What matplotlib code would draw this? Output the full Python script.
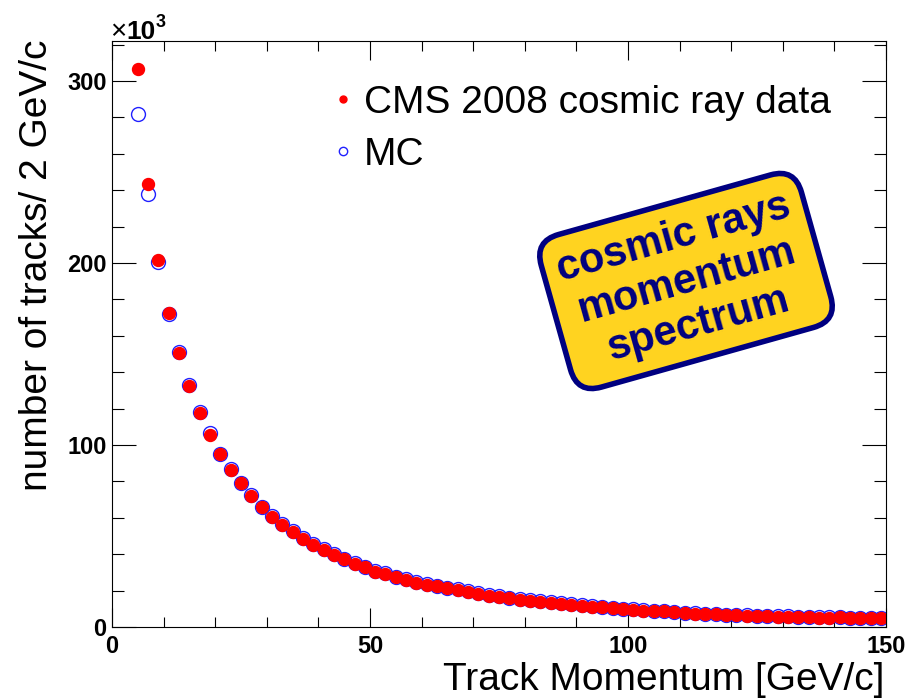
import matplotlib
matplotlib.use('Agg')
import matplotlib.pyplot as plt
import numpy as np
from matplotlib.lines import Line2D
from matplotlib.ticker import MultipleLocator, FixedLocator

plt.rcParams['font.family'] = ['Liberation Sans', 'DejaVu Sans']

# bin centres, 2 GeV/c bins from 4 to 150
momentum = np.arange(5, 150, 2)

# counts per bin, in units of 10^3
data_counts = [306.4, 243.6, 201.8, 172.6, 150.7, 132.2, 117.6, 105.6, 94.8, 86.4,
               79.0, 72.2, 65.8, 60.6, 56.2, 52.2, 48.6, 45.0, 42.3, 39.5,
               37.2, 34.6, 32.7, 30.3, 29.0, 27.3, 25.8, 24.4, 23.0, 22.3,
               21.3, 20.4, 19.3, 18.3, 17.3, 16.5, 15.7, 15.0, 14.4, 13.9,
               13.3, 12.7, 12.1, 11.6, 11.2, 10.8, 10.3, 9.8, 9.4, 9.0,
               8.8, 8.6, 8.0, 7.5, 7.3, 7.1, 6.9, 6.6, 6.4, 6.2,
               6.0, 5.9, 5.7, 5.6, 5.5, 5.3, 5.1, 5.1, 5.4, 5.0,
               5.0, 4.9, 4.9]
mc_counts = [282.0, 238.0, 200.6, 172.0, 151.2, 132.8, 118.0, 106.4, 95.2, 86.8,
             79.4, 72.6, 66.2, 61.0, 56.8, 52.6, 49.0, 45.4, 42.8, 39.9,
             37.6, 35.0, 33.2, 30.8, 29.5, 27.7, 26.2, 24.8, 23.4, 22.6,
             21.7, 20.8, 19.7, 18.7, 17.7, 16.9, 16.1, 15.4, 14.8, 14.2,
             13.6, 13.0, 12.4, 11.9, 11.5, 11.1, 10.6, 10.1, 9.7, 9.3,
             9.0, 8.8, 8.3, 7.8, 7.5, 7.3, 7.1, 6.8, 6.6, 6.4,
             6.2, 6.1, 5.9, 5.8, 5.7, 5.5, 5.3, 5.3, 5.5, 5.2,
             5.2, 5.1, 5.1]

W, H = 908, 699
fig = plt.figure(figsize=(W / 100, H / 100), dpi=100)
ax = fig.add_axes([112 / W, 1 - 627 / H, 774 / W, 586 / H])

# MC underneath, data on top
ax.plot(momentum, mc_counts, 'o', ms=10, mfc='none', mec='#2020ff', mew=1.0)
ax.plot(momentum, data_counts, 'o', ms=8.6, color='red', mec='red')

ax.set_xlim(0, 150)
ax.set_ylim(0, 322)

ax.xaxis.set_major_locator(FixedLocator([0, 50, 100, 150]))
ax.xaxis.set_minor_locator(MultipleLocator(10))
ax.yaxis.set_major_locator(FixedLocator([0, 100, 200, 300]))
ax.yaxis.set_minor_locator(MultipleLocator(20))

ax.tick_params(axis='both', which='both', direction='in', top=True, right=True,
               width=0.8, color='black')
ax.tick_params(axis='x', which='major', length=14, pad=6)
ax.tick_params(axis='x', which='minor', length=7.5)
ax.tick_params(axis='y', which='major', length=17, pad=4)
ax.tick_params(axis='y', which='minor', length=8.6)
for lab in ax.get_xticklabels() + ax.get_yticklabels():
    lab.set_fontsize(17)
    lab.set_fontweight('bold')
for sp in ax.spines.values():
    sp.set_linewidth(0.8)

# exponent marker on the y axis
fig.text(110 / W, 1 - 39 / H, '×', fontsize=20, ha='left', va='baseline')
fig.text(126 / W, 1 - 39 / H, '10', fontsize=19, fontweight='bold', ha='left', va='baseline')
fig.text(156 / W, 1 - 27 / H, '3', fontsize=13, fontweight='bold', ha='left', va='baseline')

fig.text(884 / W, 1 - 690 / H, 'Track Momentum [GeV/c]', fontsize=28,
         ha='right', va='baseline')
fig.text(47 / W, 1 - 40 / H, 'number of tracks/ 2 GeV/c', fontsize=28,
         rotation=90, ha='right', va='baseline', rotation_mode='anchor')

handles = [Line2D([], [], marker='o', ls='', color='red', ms=5),
           Line2D([], [], marker='o', ls='', mfc='none', mec='#2020ff', ms=6, mew=1.0)]
fig.legend(handles, ['CMS 2008 cosmic ray data', 'MC'], loc='upper left',
           bbox_to_anchor=(333 / W, 1 - 85 / H), bbox_transform=fig.transFigure,
           frameon=False, fontsize=28, handlelength=0.5, handletextpad=0.3,
           borderpad=0, borderaxespad=0, labelspacing=0.4)

fig.text(686 / W, 1 - 281 / H, 'cosmic rays\nmomentum\nspectrum', fontsize=30,
         fontweight='bold', color='#000080', rotation=15.7, ha='center', va='center',
         multialignment='center', linespacing=1.15, rotation_mode='anchor',
         bbox=dict(boxstyle='round,pad=0.35,rounding_size=0.6', fc='#FFD320',
                   ec='#000080', lw=4))

fig.savefig('out.png', dpi=100)
